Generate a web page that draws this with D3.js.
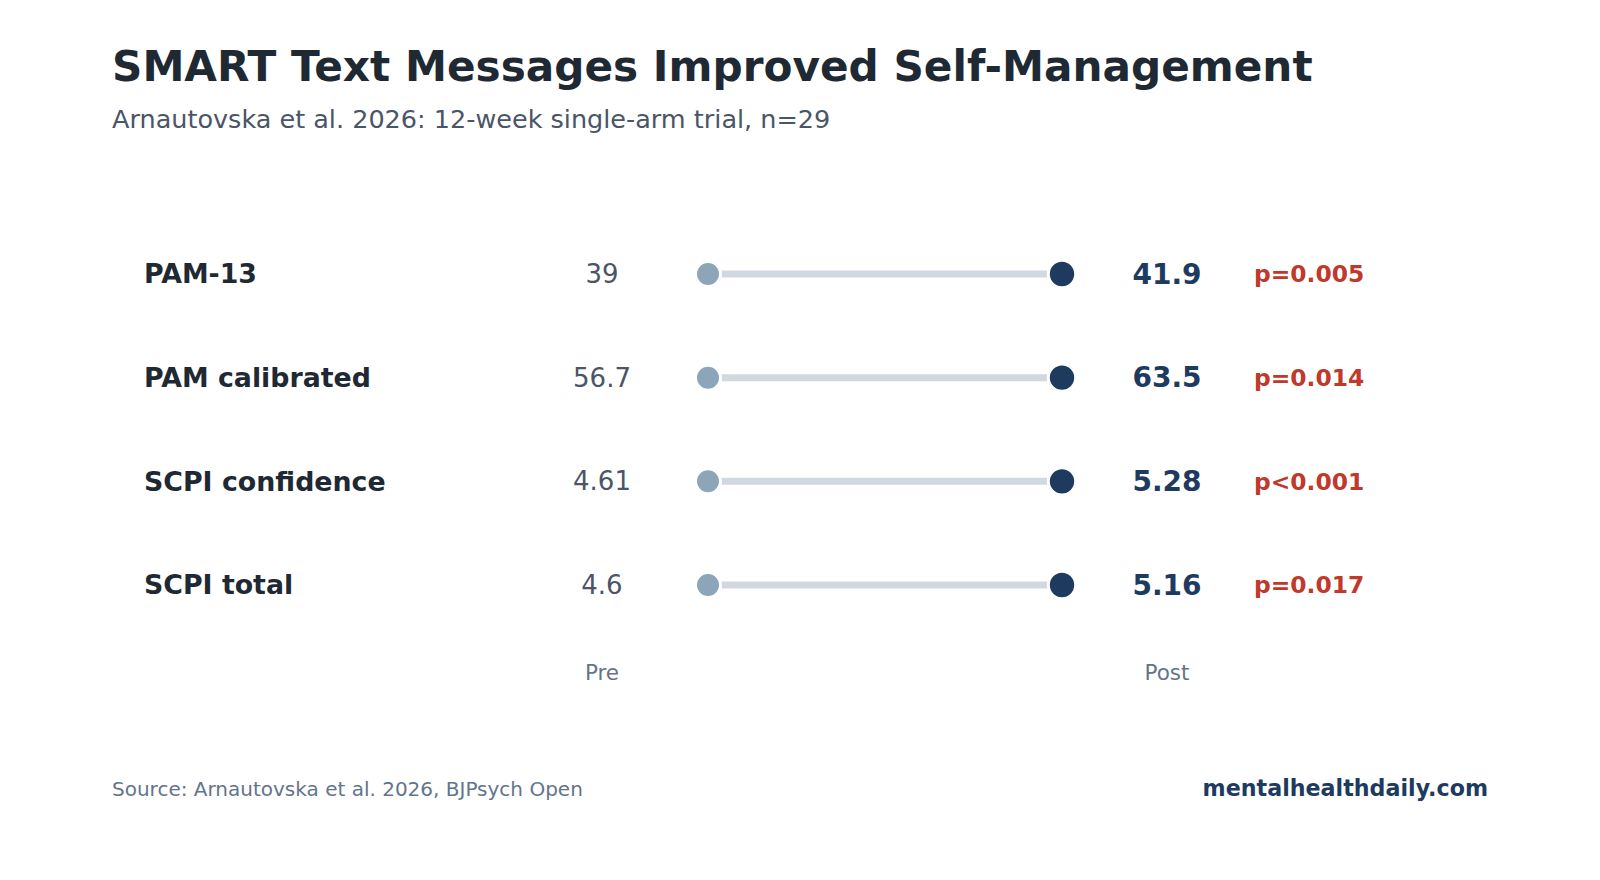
<!DOCTYPE html>
<html>
<head>
<meta charset="utf-8">
<script src="https://cdn.jsdelivr.net/npm/d3@7"></script>
<style>
  body { margin: 0; background: #fff; }
  svg text { font-family: "DejaVu Sans", sans-serif; }
</style>
</head>
<body>
<svg id="chart" width="1600" height="880"></svg>
<script>
const measures = ["PAM-13", "PAM calibrated", "SCPI confidence", "SCPI total"];
const preValues = [39, 56.7, 4.61, 4.6];
const postValues = [41.9, 63.5, 5.28, 5.16];
const pLabels = ["p=0.005", "p=0.014", "p<0.001", "p=0.017"];
const phases = ["Pre", "Post"];

const rows = measures.map((m, i) => ({
  name: m,
  pre: preValues[i],
  post: postValues[i],
  p: pLabels[i],
}));

const svg = d3.select("#chart");

svg.append("text")
  .attr("x", 112).attr("y", 81)
  .attr("font-size", 42.2).attr("font-weight", "bold")
  .attr("fill", "#1f2933")
  .text("SMART Text Messages Improved Self-Management");

svg.append("text")
  .attr("x", 112).attr("y", 128)
  .attr("font-size", 25.5)
  .attr("fill", "#4a5568")
  .text("Arnautovska et al. 2026: 12-week single-arm trial, n=29");

// rows go down, columns are pre -> post
const y = d3.scalePoint().domain(measures).range([274, 585]);
const x = d3.scalePoint().domain(phases).range([708, 1062]);

const g = svg.append("g");
const row = g.selectAll("g.row")
  .data(rows)
  .join("g")
  .attr("class", "row")
  .attr("transform", d => `translate(0,${y(d.name)})`);

row.append("text")
  .attr("x", 144)
  .attr("dy", "0.35em")
  .attr("font-size", 26.8).attr("font-weight", "bold")
  .attr("fill", "#1f2933")
  .text(d => d.name);

row.append("text")
  .attr("x", x("Pre") - 106)
  .attr("dy", "0.35em")
  .attr("text-anchor", "middle")
  .attr("font-size", 26)
  .attr("fill", "#4a5568")
  .text(d => d.pre);

row.append("line")
  .attr("x1", x("Pre"))
  .attr("x2", x("Post"))
  .attr("stroke", "#d1d8e0")
  .attr("stroke-width", 7);

row.append("circle")
  .attr("cx", x("Pre"))
  .attr("r", 12.5)
  .attr("fill", "#8ca5b8")
  .attr("stroke", "#fff")
  .attr("stroke-width", 3);

row.append("circle")
  .attr("cx", x("Post"))
  .attr("r", 13.7)
  .attr("fill", "#1e3a5f")
  .attr("stroke", "#fff")
  .attr("stroke-width", 3);

row.append("text")
  .attr("x", x("Post") + 105)
  .attr("dy", "0.35em")
  .attr("text-anchor", "middle")
  .attr("font-size", 28).attr("font-weight", "bold")
  .attr("fill", "#1e3a5f")
  .text(d => d.post);

row.append("text")
  .attr("x", 1254)
  .attr("dy", "0.35em")
  .attr("font-size", 23.4).attr("font-weight", "bold")
  .attr("fill", "#c0392b")
  .text(d => d.p);

// column captions
svg.selectAll("text.phase")
  .data(phases)
  .join("text")
  .attr("class", "phase")
  .attr("x", d => d === "Pre" ? x(d) - 106 : x(d) + 105)
  .attr("y", 672)
  .attr("dy", "0.35em")
  .attr("text-anchor", "middle")
  .attr("font-size", 21.5)
  .attr("fill", "#64748b")
  .text(d => d);

svg.append("text")
  .attr("x", 112).attr("y", 796)
  .attr("font-size", 20)
  .attr("fill", "#64748b")
  .text("Source: Arnautovska et al. 2026, BJPsych Open");

svg.append("text")
  .attr("x", 1488).attr("y", 796)
  .attr("text-anchor", "end")
  .attr("font-size", 22.2).attr("font-weight", "bold")
  .attr("fill", "#1e3a5f")
  .text("mentalhealthdaily.com");
</script>
</body>
</html>
